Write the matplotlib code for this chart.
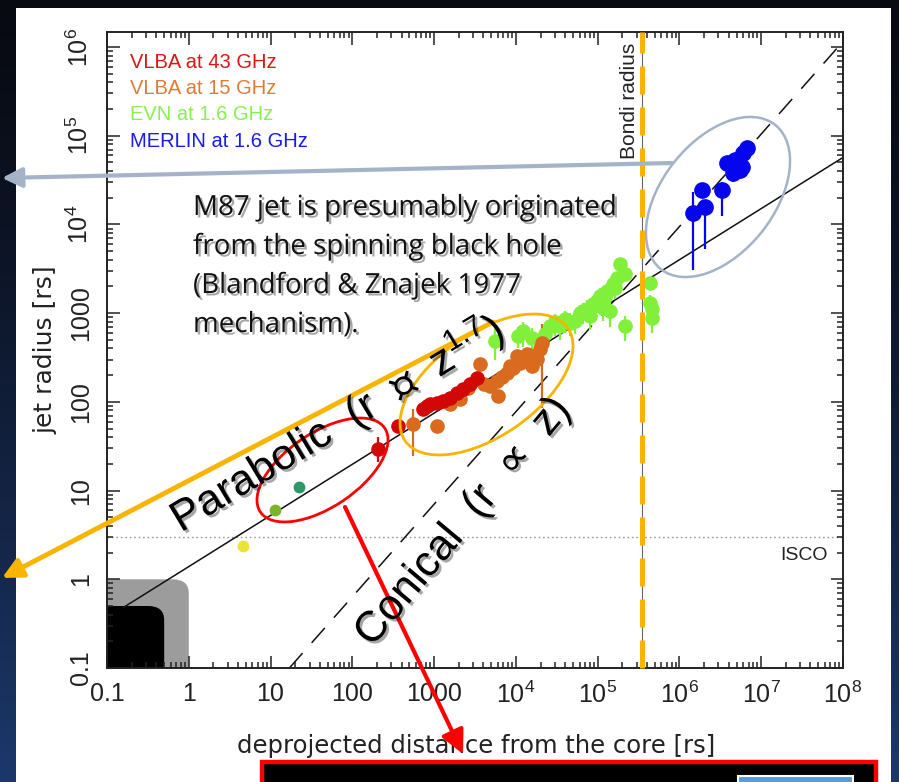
import numpy as np
import matplotlib
matplotlib.use("Agg")
import matplotlib.pyplot as plt
import matplotlib.patheffects as pe
from matplotlib.patches import Ellipse, Rectangle, FancyBboxPatch
from matplotlib.ticker import FixedLocator, LogLocator, NullFormatter

plt.rcParams['font.family'] = ['Liberation Sans', 'DejaVu Sans']
plt.rcParams['mathtext.fontset'] = 'custom'
plt.rcParams['mathtext.rm'] = 'Liberation Sans'
plt.rcParams['mathtext.it'] = 'Liberation Sans:italic'
plt.rcParams['mathtext.default'] = 'regular'

# --- jet width profile of M87: deprojected distance z [rs] vs jet radius r [rs]
# innermost measurements (single points)
core_z = [4.6, 11.3, 22.0]
core_r = [2.4, 6.1, 11.0]
core_colors = ['#eee236', '#7db42e', '#2f9868']

# VLBA 43 GHz
vlba43_z = [206, 361, 730, 817, 889, 1081, 1282, 1560, 1900, 2250, 2740, 3340]
vlba43_r = [29.5, 54, 84, 91, 95, 98, 103, 111, 127, 141, 160, 187]
vlba43_lo = [21, 49, 78, 86, 90, 92, 97, 104, 118, 132, 150, 175]
vlba43_hi = [40, 59, 90, 96, 100, 104, 109, 118, 136, 150, 170, 199]

# VLBA 15 GHz
vlba15_z = [551, 1081, 1560, 2070, 2590, 3630, 4100, 4810, 6030, 5860, 6800, 7770,
            8460, 9300, 10300, 11200, 12400, 13600, 15700, 17000, 18100, 19700, 20800]
vlba15_r = [57, 54, 95, 109, 145, 270, 160, 152, 117, 173, 190, 214,
            256, 240, 333, 277, 300, 350, 256, 330, 308, 398, 466]
vlba15_lo = [24.7, 50, 80, 100, 135, 255, 150, 142, 110, 160, 178, 200,
             240, 225, 310, 260, 282, 330, 240, 310, 290, 370, 86]
vlba15_hi = [84, 58, 110, 118, 155, 285, 170, 162, 125, 186, 202, 228,
             272, 255, 356, 294, 318, 370, 272, 350, 326, 426, 764]

# EVN 1.6 GHz
evn_z = [5530, 10600, 12200, 15700, 22600, 26000, 30000, 34500, 39800, 45700, 52500, 60500,
         67000, 73800, 80300, 87300, 97700, 106000, 116000, 122000, 129500, 141000, 153000,
         165000, 172000, 187000, 215000, 215000, 434000, 434000, 459000, 459000]
evn_r = [491, 558, 637, 531, 589, 725, 800, 725, 871, 783, 824, 1016,
         1050, 1127, 940, 1283, 1387, 1580, 1156, 1538, 1800, 1070, 2160,
         1900, 2520, 3630, 2800, 725, 2210, 1318, 1127, 891]
evn_lo = [300, 400, 420, 380, 400, 520, 560, 500, 600, 560, 580, 720,
          760, 800, 650, 900, 1000, 1150, 820, 1100, 1300, 700, 1600,
          1450, 1900, 3300, 2300, 480, 2000, 1000, 800, 600]
evn_hi = [700, 700, 800, 680, 760, 900, 980, 920, 1050, 1000, 1050, 1250,
          1300, 1400, 1200, 1550, 1700, 1900, 1450, 1850, 2100, 1400, 2500,
          2300, 2900, 3950, 3200, 920, 2450, 1600, 1450, 1150]

# MERLIN 1.6 GHz
merlin_z = [1.46e6, 1.88e6, 2.05e6, 3.3e6, 3.8e6, 4.5e6, 4.75e6, 5.47e6, 5.8e6, 5.96e6, 6.67e6]
merlin_r = [13300, 24200, 15600, 24200, 48800, 37600, 52700, 40700, 44000, 63400, 72100]
merlin_lo = [3030, 20000, 5360, 12600, 42000, 30000, 45000, 33000, 36000, 56000, 64000]
merlin_hi = [23000, 29000, 19000, 30000, 55000, 44000, 60000, 48000, 52000, 71000, 80000]

# reference lines and radii
para_z = [0.158, 1e8]          # parabolic streamline, r ~ z^0.58
para_r = [0.48, 5.7e4]
cone_z = [17.0, 8.7e7]          # conical streamline, r ~ z
cone_r = [0.1, 1.0e6]
isco_r = 3.0
bondi_z = 3.5e5
horizon_outer = 1.0
horizon_inner = 0.5

x_ticks = [0.1, 1, 10, 100, 1000, 1e4, 1e5, 1e6, 1e7, 1e8]
x_labels = ['0.1', '1', '10', '100', '1000', '$10^4$', '$10^5$', '$10^6$', '$10^7$', '$10^8$']
y_ticks = [0.1, 1, 10, 100, 1000, 1e4, 1e5, 1e6]
y_labels = ['0.1', '1', '10', '100', '1000', '$10^4$', '$10^5$', '$10^6$']

legend_names = ['VLBA at 43 GHz', 'VLBA at 15 GHz', 'EVN at 1.6 GHz', 'MERLIN at 1.6 GHz']
legend_colors = ['#dd1515', '#e07a35', '#88f050', '#1a1aee']

c43, c15, cevn, cmer = '#d20808', '#d96a1e', '#80f03a', '#0505ee'

W, H = 899, 782
fig = plt.figure(figsize=(W / 100, H / 100), dpi=100)

# slide background
bg = fig.add_axes([0, 0, 1, 1], zorder=0)
bg.set_xlim(0, W)
bg.set_ylim(H, 0)
bg.axis('off')
t = np.linspace(0, 1, 256)[:, None]
top = np.array([0.03, 0.04, 0.07])
bot = np.array([0.11, 0.22, 0.42])
grad = (top + (bot - top) * t ** 1.3)[:, None, :] * np.ones((1, 4, 1))
bg.imshow(grad, extent=[0, W, H, 0], aspect='auto')
bg.add_patch(Rectangle((16, 8), 875, 780, fc='white', ec='none'))

# main plot
x0, y0, x1, y1 = 107, 32, 843, 668
ax = fig.add_axes([x0 / W, 1 - y1 / H, (x1 - x0) / W, (y1 - y0) / H], zorder=1)
ax.set_xscale('log')
ax.set_yscale('log')
ax.set_xlim(0.1, 1e8)
ax.set_ylim(0.1, 10 ** 6.17)

ax.xaxis.set_major_locator(FixedLocator(x_ticks))
ax.set_xticklabels(x_labels)
ax.yaxis.set_major_locator(FixedLocator(y_ticks))
ax.set_yticklabels(y_labels, rotation=90, va='center')
for axis in (ax.xaxis, ax.yaxis):
    axis.set_minor_locator(LogLocator(base=10, subs=np.arange(2, 10), numticks=20))
    axis.set_minor_formatter(NullFormatter())
ax.tick_params(which='both', direction='in', top=True, right=True, width=1.1, colors='#222222')
ax.tick_params(which='major', length=9, labelsize=18, pad=10)
ax.tick_params(which='minor', length=4.5)
for s in ax.spines.values():
    s.set_linewidth(1.4)
    s.set_color('#222222')


def fx(v):
    return (np.log10(v) + 1) / 9.0


def fy(v):
    return (np.log10(v) + 1) / 7.17


# event horizon / ergosphere shading
ax.add_patch(FancyBboxPatch((-0.1, -0.1), fx(horizon_outer) + 0.1, fy(horizon_outer) + 0.1,
                            boxstyle='round,pad=0,rounding_size=0.022', transform=ax.transAxes,
                            fc='#9c9c9c', ec='none', zorder=1))
ax.add_patch(FancyBboxPatch((-0.1, -0.1), fx(horizon_inner) + 0.1, fy(horizon_inner) + 0.1,
                            boxstyle='round,pad=0,rounding_size=0.022', transform=ax.transAxes,
                            fc='black', ec='none', zorder=1.1))

ax.plot(para_z, para_r, color='#111111', lw=1.1, zorder=2)
ax.plot(cone_z, cone_r, color='#111111', lw=1.1, ls=(0, (13, 9)), zorder=2)
ax.axhline(isco_r, color='#999999', lw=1.0, ls=(0, (1.2, 2)), zorder=1.5)
ax.axvline(bondi_z, color='#666666', lw=0.8, zorder=1.5)

ax.annotate('Bondi radius', xy=(bondi_z, 10 ** 6.17), xytext=(-3, -11), textcoords='offset pixels',
            rotation=90, ha='right', va='top', fontsize=15, color='#222222')
ax.annotate('ISCO', xy=(1e8, isco_r), xytext=(-15, -19), textcoords='offset pixels',
            ha='right', va='center', fontsize=14, color='#222222')


def draw_series(z, r, lo, hi, color, ms):
    z, r, lo, hi = map(np.asarray, (z, r, lo, hi))
    ax.errorbar(z, r, yerr=[r - lo, hi - r], fmt='o', color=color, ms=ms, mec=color,
                elinewidth=1.6, capsize=0, zorder=3)


draw_series(evn_z, evn_r, evn_lo, evn_hi, cevn, 9.5)
draw_series(vlba15_z, vlba15_r, vlba15_lo, vlba15_hi, c15, 9.5)
draw_series(vlba43_z, vlba43_r, vlba43_lo, vlba43_hi, c43, 9.5)
draw_series(merlin_z, merlin_r, merlin_lo, merlin_hi, cmer, 11)
for z, r, c in zip(core_z, core_r, core_colors):
    ax.plot(z, r, 'o', color=c, ms=7.5, zorder=3)

for i, (name, c) in enumerate(zip(legend_names, legend_colors)):
    ax.text((130 - x0) / (x1 - x0), 1 - (62 + 26.5 * i - y0) / (y1 - y0), name,
            transform=ax.transAxes, fontsize=14.5, color=c, va='center', ha='left')

fig.text(45 / W, 1 - 350 / H, 'jet radius [rs]', rotation=90, ha='center', va='center',
         fontsize=18, family='DejaVu Sans', color='#222222')
fig.text(476 / W, 1 - 746 / H, 'deprojected distance from the core [rs]', ha='center',
         va='center', fontsize=17.5, family='DejaVu Sans', color='#222222')

# slide annotations
ov = fig.add_axes([0, 0, 1, 1], zorder=5)
ov.set_xlim(0, W)
ov.set_ylim(H, 0)
ov.axis('off')
ov.patch.set_alpha(0)

orange = '#f8b400'
ov.axvline(641.5, ymin=1 - y1 / H, ymax=1 - y0 / H, color=orange, lw=3.6, ls=(0, (5.6, 2.6)))

ov.add_patch(Ellipse((322.5, 470), 150, 74, angle=-34, fill=False, ec='#ff0000', lw=2))
ov.add_patch(Ellipse((486.5, 384.5), 198, 103, angle=-34.7, fill=False, ec=orange, lw=2))
ov.add_patch(Ellipse((718, 197), 184, 112, angle=-51.6, fill=False, ec='#a4b3c8', lw=1.8))

ov.annotate('', xy=(2, 178), xytext=(672, 163),
            arrowprops=dict(arrowstyle='-|>,head_length=1.2,head_width=0.6', color='#a4b3c8',
                            lw=3, shrinkA=0, shrinkB=0))
ov.annotate('', xy=(2, 578), xytext=(493, 322),
            arrowprops=dict(arrowstyle='-|>,head_length=1.2,head_width=0.6', color=orange,
                            lw=3.5, shrinkA=0, shrinkB=0))
ov.annotate('', xy=(463, 754), xytext=(345, 507),
            arrowprops=dict(arrowstyle='-|>,head_length=1.4,head_width=0.7', color='#ff0000',
                            lw=3, shrinkA=0, shrinkB=0))

shadow = [pe.withSimplePatchShadow(offset=(1.8, -1.8), shadow_rgbFace='#000000', alpha=0.35)]
lines = ['M87 jet is presumably originated', 'from the spinning black hole',
         '(Blandford & Znajek 1977', 'mechanism).']
for i, s in enumerate(lines):
    ov.text(193, 215 + 39 * i, s, fontsize=20, family=['Open Sans', 'DejaVu Sans'],
            color='#111111', ha='left', va='baseline', path_effects=shadow)

ov.text(181, 533, 'Parabolic  (r  \u221d  z$^{1.7}$)', fontsize=31, rotation=31,
        rotation_mode='anchor', ha='left', va='baseline', color='black', path_effects=shadow)
ov.text(372, 648, 'Conical  (r  \u221d  z)', fontsize=31, rotation=50,
        rotation_mode='anchor', ha='left', va='baseline', color='black', path_effects=shadow)

ov.add_patch(Rectangle((262, 762), 614, 30, fc='black', ec='#ff0000', lw=3.2))
ov.add_patch(Rectangle((738, 776), 115, 20, fc='#5b9bd5', ec='white', lw=1.5))

fig.savefig('out.png', dpi=100)
